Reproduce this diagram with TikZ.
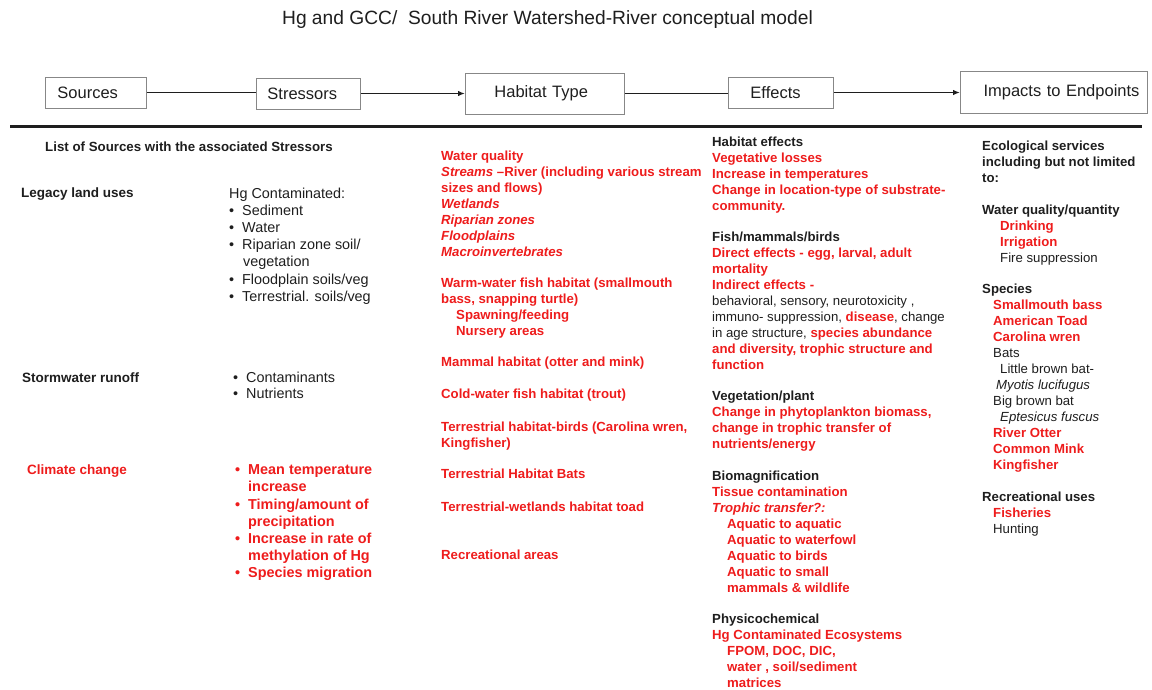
\documentclass[tikz,border=0pt]{standalone}
\usepackage{fontspec}
\setmainfont{Liberation Sans}
\usetikzlibrary{arrows.meta,positioning}
\definecolor{hgred}{RGB}{238,28,28}
\definecolor{ink}{RGB}{30,30,30}
\definecolor{boxgray}{RGB}{135,135,135}
\newcommand{\kb}[1]{\textcolor{ink}{#1}}
\newcommand{\kn}[1]{\textcolor{ink}{\mdseries #1}}
\newcommand{\bul}{\makebox[13pt][l]{\textbullet}}
\newcommand{\ind}[1][15pt]{\hspace*{#1}}

\tikzset{
  stage/.style={draw=boxgray, line width=0.9pt, anchor=west, align=left,
    inner ysep=0pt, text=ink, font=\fontsize{16.5}{18}\selectfont},
  blk/.style={anchor=north west, inner sep=0pt, align=left,
    font=\fontsize{13.2}{16}\selectfont\bfseries, text=hgred},
  hd/.style={blk, text=ink},
  lbl/.style={blk, text=ink, font=\fontsize{13.5}{16}\selectfont\bfseries},
  strs/.style={blk, text=ink, font=\fontsize{14.4}{17.2}\selectfont},
  link/.style={line width=1.7pt, draw=ink},
}

\begin{document}
\begin{tikzpicture}[x=1pt,y=-1pt]
\useasboundingbox (0,0) rectangle (1152,689);

\node[text=ink, font=\fontsize{19.2}{22}\selectfont] (title) at (547.5,20)
  {Hg and GCC/\ \ South River Watershed-River conceptual model};

% stages
\node[stage, minimum height=31pt, inner xsep=12pt, text width=77pt] (src) at (45,92.5) {Sources};
\node[stage, minimum height=31pt, inner xsep=11pt, text width=82pt] (str) at (256,93.5) {Stressors};
\node[stage, minimum height=41pt, inner xsep=29pt, text width=101pt] (hab) at (465,93.5) {Habitat Type};
\node[stage, minimum height=31pt, inner xsep=22pt, text width=61pt] (eff) at (728,92.5) {Effects};
\node[stage, minimum height=42pt, inner xsep=8pt, text width=171pt, align=right] (imp) at (960,92) {Impacts to Endpoints};

\draw[link] (src) -- (src -| str.west);
\draw[link,-{Latex[length=7pt,width=5.5pt]}] (str) -- (str -| hab.west);
\draw[link] (hab) -- (hab -| eff.west);
\draw[link,-{Latex[length=7pt,width=5.5pt]}] (eff) -- (eff -| imp.west);

\draw[line width=2.6pt, ink] (10,126.5) -- (1142,126.5);

% sources
\node[lbl, font=\fontsize{13.3}{16}\selectfont\bfseries] (srclist) at (45,142) {List of Sources with the associated Stressors};
\node[lbl] (legacy) at (21,188) {Legacy land uses};
\node[lbl] (storm) at (22,373) {Stormwater runoff};
\node[lbl, text=hgred] (climate) at (27,465) {Climate change};

% stressors
\node[strs] (hgstr) at (229,187.5) {Hg Contaminated:\\
\bul Sediment\\
\bul Water\\
\bul Riparian zone soil/\\
\ind[14pt]vegetation\\
\bul Floodplain soils/veg\\
\bul Terrestrial. soils/veg};
\node[strs, font=\fontsize{14.4}{16}\selectfont] (stormstr) at (233,371.5) {\bul Contaminants\\
\bul Nutrients};
\node[strs, text=hgred, font=\fontsize{14.4}{17.2}\selectfont\bfseries] (climstr) at (235,464.5) {\bul Mean temperature\\
\ind[13pt]increase\\
\bul Timing/amount of\\
\ind[13pt]precipitation\\
\bul Increase in rate of\\
\ind[13pt]methylation of Hg\\
\bul Species migration};

% habitat type
\node[blk] (water) at (441,151) {Water quality\\
\textit{Streams} –River (including various stream\\
sizes and flows)\\
\textit{Wetlands}\\
\textit{Riparian zones}\\
\textit{Floodplains}\\
\textit{Macroinvertebrates}};
\node[blk] (warm) at (441,278) {Warm-water fish habitat (smallmouth\\
bass, snapping turtle)\\
\ind Spawning/feeding\\
\ind Nursery areas};
\node[blk] (mammal) at (441,357) {Mammal habitat (otter and mink)};
\node[blk] (cold) at (441,389) {Cold-water fish habitat (trout)};
\node[blk] (birds) at (441,422) {Terrestrial habitat-birds (Carolina wren,\\
Kingfisher)};
\node[blk] (bats) at (441,469) {Terrestrial Habitat Bats};
\node[blk] (toad) at (441,502) {Terrestrial-wetlands habitat toad};
\node[blk] (recarea) at (441,550) {Recreational areas};

% effects
\node[blk] (habeff) at (712,137) {\kb{Habitat effects}\\
Vegetative losses\\
Increase in temperatures\\
Change in location-type of substrate-\\
community.};
\node[blk] (fish) at (712,232) {\kb{Fish/mammals/birds}\\
Direct effects - egg, larval, adult\\
mortality\\
Indirect effects -\\
\kn{behavioral, sensory, neurotoxicity ,}\\
\kn{immuno- suppression, }disease\kn{, change}\\
\kn{in age structure, }species abundance\\
and diversity, trophic structure and\\
function};
\node[blk] (veg) at (712,391) {\kb{Vegetation/plant}\\
Change in phytoplankton biomass,\\
change in trophic transfer of\\
nutrients/energy};
\node[blk] (biomag) at (712,471) {\kb{Biomagnification}\\
Tissue contamination\\
\textit{Trophic transfer?:}\\
\ind Aquatic to aquatic\\
\ind Aquatic to waterfowl\\
\ind Aquatic to birds\\
\ind Aquatic to small\\
\ind mammals \& wildlife};
\node[blk] (physchem) at (712,614) {\kb{Physicochemical}\\
Hg Contaminated Ecosystems\\
\ind FPOM, DOC, DIC,\\
\ind water , soil/sediment\\
\ind matrices};

% endpoints
\node[hd] (ecoserv) at (982,141) {Ecological services\\
including but not limited\\
to:};
\node[hd] (waterq) at (982,205) {Water quality/quantity\\
\ind[18pt]\textcolor{hgred}{Drinking}\\
\ind[18pt]\textcolor{hgred}{Irrigation}\\
\ind[18pt]\kn{Fire suppression}};
\node[hd] (species) at (982,284) {Species\\
\ind[11pt]\textcolor{hgred}{Smallmouth bass}\\
\ind[11pt]\textcolor{hgred}{American Toad}\\
\ind[11pt]\textcolor{hgred}{Carolina wren}\\
\ind[11pt]\kn{Bats}\\
\ind[18pt]\kn{Little brown bat-}\\
\ind[14pt]\kn{\itshape Myotis lucifugus}\\
\ind[11pt]\kn{Big brown bat}\\
\ind[18pt]\kn{\itshape Eptesicus fuscus}\\
\ind[11pt]\textcolor{hgred}{River Otter}\\
\ind[11pt]\textcolor{hgred}{Common Mink}\\
\ind[11pt]\textcolor{hgred}{Kingfisher}};
\node[hd] (recuse) at (982,492) {Recreational uses\\
\ind[11pt]\textcolor{hgred}{Fisheries}\\
\ind[11pt]\kn{Hunting}};
\end{tikzpicture}
\end{document}
